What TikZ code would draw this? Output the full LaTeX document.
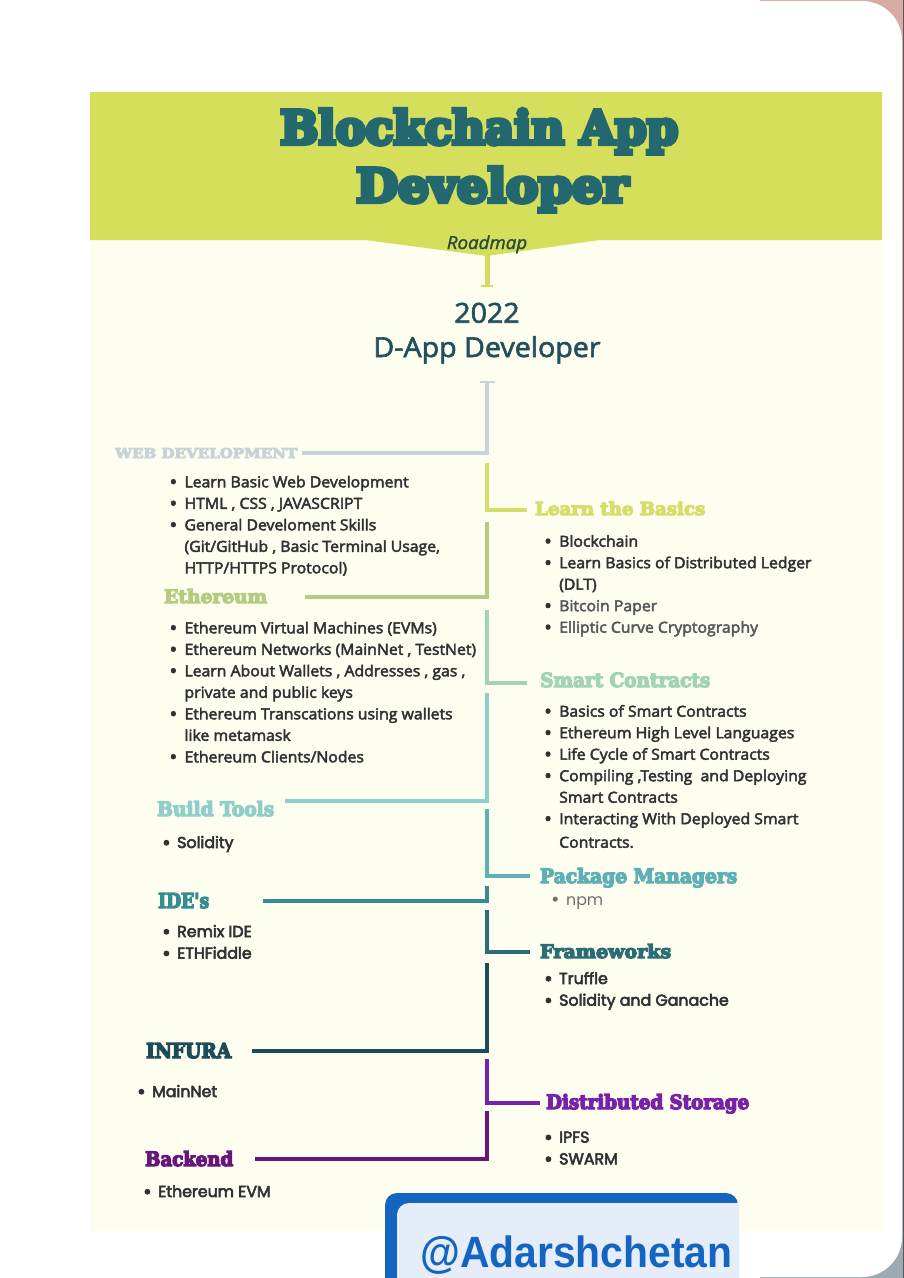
\documentclass[tikz,border=0pt]{standalone}
\usepackage{fontspec}
\usepackage{graphicx}
\usetikzlibrary{arrows.meta}
\setmainfont{Open Sans}
\newfontfamily\body[FakeStretch=1.04]{Open Sans}
\newfontfamily\slab{DejaVu Serif}
\newfontfamily\pop{Poppins}
\newfontfamily\popl{Poppins}
\newfontfamily\wm{Liberation Sans}
% colours
\definecolor{band}{HTML}{D5DF5C}
\definecolor{cream}{HTML}{FDFDF0}
\definecolor{ttl}{HTML}{23686E}
\definecolor{yr}{HTML}{22505A}
\definecolor{road}{HTML}{2B4A3A}
\definecolor{txt}{HTML}{303133}
\definecolor{txtl}{HTML}{55575A}
\definecolor{npmc}{HTML}{6E6E6E}
\definecolor{c0}{HTML}{D3DC5C}
\definecolor{c1}{HTML}{C8D3D6}
\definecolor{c2}{HTML}{D6DE6A}
\definecolor{c3}{HTML}{B6CB80}
\definecolor{c4}{HTML}{A1D3B4}
\definecolor{c5}{HTML}{8FCECB}
\definecolor{c6}{HTML}{5FB0B5}
\definecolor{c7}{HTML}{358C91}
\definecolor{c8}{HTML}{2B6D77}
\definecolor{c9}{HTML}{1C4D57}
\definecolor{c10}{HTML}{7822A7}
\definecolor{c11}{HTML}{68167B}
\definecolor{wmblue}{HTML}{1565C0}
\definecolor{wmlight}{HTML}{E4EDF8}
\definecolor{pinkbg}{HTML}{D8ABA4}
\definecolor{greybg}{HTML}{9CAAB4}
% stroked glyphs for the heavy faces
\newcommand\strk[1]{\special{pdf:literal direct 2 Tr #1 w}}
\newcommand\hdtext[3]{\resizebox{#1}{#2}{\slab\bfseries #3}}
\newcommand\itm{\makebox[15pt][l]{\raisebox{-1.6pt}{\scalebox{1.3}{\textbullet}}}}

\begin{document}
\begin{tikzpicture}[x=1pt, y=-1pt,
  link/.style={line width=4pt},
  hd/.style={anchor=base west, inner sep=0pt, font=\strk{0.65}},
  lst/.style={anchor=base west, inner sep=0pt, text=txt, font=\strk{0.45}\body\fontsize{15.2}{21.5}\selectfont},
  plst/.style={anchor=base west, inner sep=0pt, text=txt, font=\strk{0.55}\pop\fontsize{15.8}{21.7}\selectfont},
  ]
\useasboundingbox (0,0) rectangle (904,1278);
% screen card
\fill[pinkbg] (760,0) rectangle (904,640);
\fill[greybg] (760,640) rectangle (904,1278);
\fill[white, rounded corners=40pt] (-60,1) rectangle (902,1277);
\fill[black!65] (903,0) rectangle (904,1278);
% panel and banner
\fill[cream] (90,92) rectangle (882,1231);
\fill[band] (90,92) -- (882,92) -- (882,240) -- (600,240) -- (487,256) -- (365,240) -- (90,240) -- cycle;

\node[hd, text=ttl, font=\strk{0.95}] (title1) at (280,144) {\hdtext{398pt}{35pt}{Blockchain App}};
\node[hd, text=ttl, font=\strk{0.95}] (title2) at (356,202) {\hdtext{272pt}{35pt}{Developer}};
\node[anchor=base, inner sep=0pt, text=road, font=\strk{0.3}\body\itshape\fontsize{18}{18}\selectfont] (road) at (487,249) {Roadmap};
\node[anchor=base, inner sep=0pt, text=yr, font=\strk{0.6}\body\fontsize{27.5}{27.5}\selectfont] (year) at (487,322.7) {2022};
\node[anchor=base, inner sep=0pt, text=yr, font=\strk{0.6}\body\fontsize{27.5}{27.5}\selectfont] (dapp) at (487,357) {D-App Developer};

% headings
\node[hd, text=c1] (web) at (115,458) {\hdtext{182pt}{10pt}{WEB DEVELOPMENT}};
\node[hd, text=c2] (basics) at (535,515) {\hdtext{170pt}{13.5pt}{Learn the Basics}};
\node[hd, text=c3] (eth) at (164,603) {\hdtext{103pt}{14pt}{Ethereum}};
\node[hd, text=c4] (smart) at (540,687) {\hdtext{170pt}{14.5pt}{Smart Contracts}};
\node[hd, text=c5] (build) at (157,816) {\hdtext{117pt}{15pt}{Build Tools}};
\node[hd, text=c6] (pkg) at (540,883) {\hdtext{197pt}{15pt}{Package Managers}};
\node[hd, text=c7] (ide) at (158,908) {\hdtext{51pt}{15pt}{IDE's}};
\node[hd, text=c8] (frame) at (540,958) {\hdtext{131pt}{14pt}{Frameworks}};
\node[hd, text=c9] (infura) at (146,1058) {\hdtext{85pt}{15pt}{INFURA}};
\node[hd, text=c10] (store) at (546,1109) {\hdtext{203pt}{15pt}{Distributed Storage}};
\node[hd, text=c11] (back) at (145,1166) {\hdtext{88pt}{15pt}{Backend}};

% lists
\node[lst] (webl) at (169.3,487.3) {\begin{tabular}[t]{@{}l@{}l@{}}
  \itm & Learn Basic Web Development\\
  \itm & HTML , CSS , JAVASCRIPT\\
  \itm & General Develoment Skills\\
       & (Git/GitHub , Basic Terminal Usage,\\
       & HTTP/HTTPS Protocol)
  \end{tabular}};
\node[lst] (ethl) at (169.3,633.3) {\begin{tabular}[t]{@{}l@{}l@{}}
  \itm & Ethereum Virtual Machines (EVMs)\\
  \itm & Ethereum Networks (MainNet , TestNet)\\
  \itm & Learn About Wallets , Addresses , gas ,\\
       & private and public keys\\
  \itm & Ethereum Transcations using wallets\\
       & like metamask\\
  \itm & Ethereum Clients/Nodes
  \end{tabular}};
\node[lst] (basicsl) at (544,546.7) {\begin{tabular}[t]{@{}l@{}l@{}}
  \itm & Blockchain\\
  \itm & Learn Basics of Distributed Ledger\\
       & (DLT)\\
  \itm & \textcolor{txtl}{Bitcoin Paper}\\
  \itm & \textcolor{txtl}{Elliptic Curve Cryptography}
  \end{tabular}};
\node[lst] (smartl) at (544,716.7) {\begin{tabular}[t]{@{}l@{}l@{}}
  \itm & Basics of Smart Contracts\\
  \itm & Ethereum High Level Languages\\
  \itm & Life Cycle of Smart Contracts\\
  \itm & Compiling ,Testing~ and Deploying\\
       & Smart Contracts\\
  \itm & Interacting With Deployed Smart\\[2pt]
       & Contracts.
  \end{tabular}};
\node[plst] (buildl) at (162,848) {\itm Solidity};
\node[anchor=base west, inner sep=0pt, text=npmc, font=\popl\fontsize{15.8}{21.7}\selectfont] (pkgl) at (551,905) {\itm npm};
\node[plst] (idel) at (162,937) {\begin{tabular}[t]{@{}l@{}l@{}}
  \itm & Remix IDE\\
  \itm & ETHFiddle
  \end{tabular}};
\node[plst] (framel) at (544,984) {\begin{tabular}[t]{@{}l@{}l@{}}
  \itm & Truffle\\
  \itm & Solidity and Ganache
  \end{tabular}};
\node[plst] (infural) at (137,1097) {\itm MainNet};
\node[plst] (storel) at (544,1142.7) {\begin{tabular}[t]{@{}l@{}l@{}}
  \itm & IPFS\\
  \itm & SWARM
  \end{tabular}};
\node[plst] (backl) at (143,1197) {\itm Ethereum EVM};

% spine
\coordinate (r1) at (487,287);
\draw[line width=5pt, c0, -{Bar[width=12pt,line width=2pt]}] (road) -- (r1);
\coordinate (a1) at (487,381);   \coordinate (b1) at (302,453);
\coordinate (a2) at (487,463);   \coordinate (b2) at (527,510);
\coordinate (a3) at (487,522);   \coordinate (b3) at (305,597);
\coordinate (a4) at (487,610);   \coordinate (b4) at (527,683);
\coordinate (a5) at (487,693);   \coordinate (b5) at (285,801);
\coordinate (a6) at (487,809);   \coordinate (b6) at (530,876);
\coordinate (a7) at (487,886);   \coordinate (b7) at (263,901);
\coordinate (a8) at (487,910);   \coordinate (b8) at (530,952);
\coordinate (a9) at (487,963);   \coordinate (b9) at (252,1051);
\coordinate (a10) at (487,1059); \coordinate (b10) at (540,1103);
\coordinate (a11) at (487,1111); \coordinate (b11) at (255,1159);
\draw[link, c1, {Bar[width=15pt,line width=2pt]}-] (a1) |- (b1);
\draw[link, c2] (a2) |- (b2);
\draw[link, c3] (a3) |- (b3);
\draw[link, c4] (a4) |- (b4);
\draw[link, c5] (a5) |- (b5);
\draw[link, c6] (a6) |- (b6);
\draw[link, c7] (a7) |- (b7);
\draw[link, c8] (a8) |- (b8);
\draw[link, c9] (a9) |- (b9);
\draw[link, c10] (a10) |- (b10);
\draw[link, c11] (a11) |- (b11);

% tag
\fill[wmblue, rounded corners=12pt] (385,1300) -- (385,1193) -- (738,1193) -- (738,1300) -- cycle;
\fill[wmlight] (397,1300) [rounded corners=12pt] -- (397,1203) [sharp corners] -- (738,1203) -- (738,1300) -- cycle;
\node[anchor=base west, inner sep=0pt, text=wmblue] (tag) at (420,1267) {\resizebox{312pt}{31.7pt}{\wm\bfseries @Adarshchetan}};
\end{tikzpicture}
\end{document}
